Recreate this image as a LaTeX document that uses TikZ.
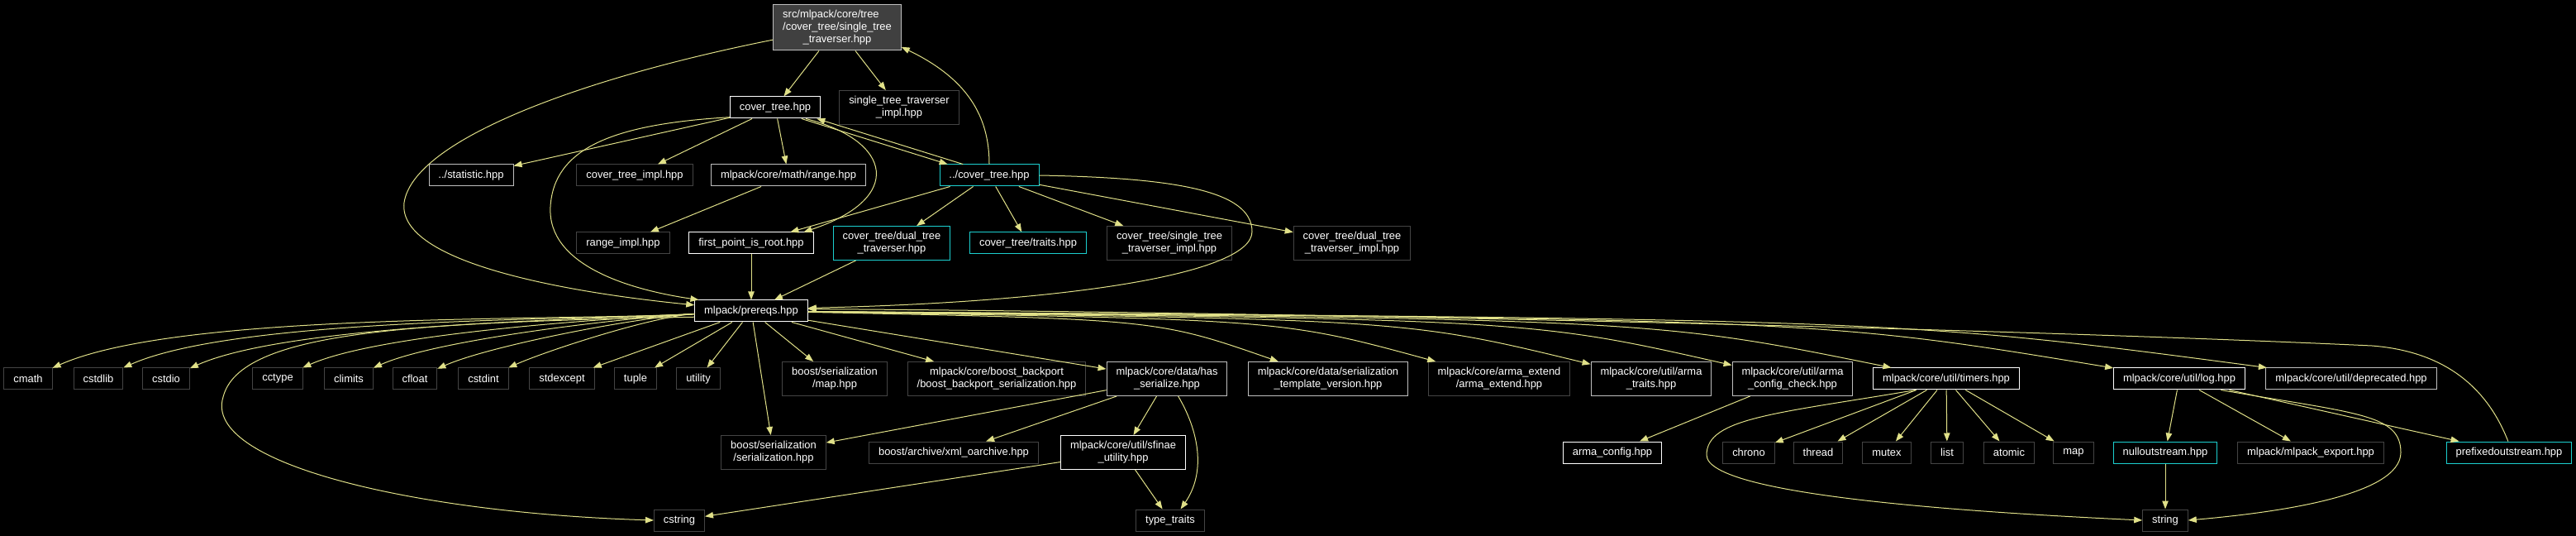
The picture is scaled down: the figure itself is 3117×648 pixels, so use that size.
\documentclass[tikz,border=0pt]{standalone}
\usepackage{fontspec}
\usepackage{xcolor}
\usepackage{tikz}
\usetikzlibrary{arrows.meta}
\newfontfamily\hfont{Liberation Sans}
\definecolor{edgeyel}{HTML}{E0E088}
\definecolor{docgrey}{HTML}{BFBFBF}
\definecolor{undocgrey}{HTML}{444444}
\definecolor{cyclecyan}{HTML}{1CCFCF}
\definecolor{selffill}{HTML}{404040}
\tikzset{
  hdr/.style    ={rectangle,draw,line width=0.75pt,fill=black,text=white,align=center,
                  font=\hfont\fontsize{9.7}{11.25}\selectfont,inner xsep=8.6pt,inner ysep=5.2pt,minimum height=19.5pt},
  docw/.style   ={draw=white},
  docg/.style   ={draw=docgrey},
  undoc/.style  ={draw=undocgrey},
  cyc/.style    ={draw=cyclecyan},
  self/.style   ={fill=selffill,draw=docgrey},
  dep/.style    ={draw=edgeyel,line width=0.75pt,-{Triangle[length=7.5pt,width=5.6pt]}},
}

\begin{document}
\begin{tikzpicture}[x=0.75pt,y=-0.75pt]
  \useasboundingbox (0,0) rectangle (3117,648);
  \fill[black] (0,0) rectangle (3117,648);
  % the file and the cover tree headers
  \node[hdr,self](stt) at (1013,33){\rlap{src/mlpack/core/tree}\phantom{/cover\_tree/single\_tree}\\/cover\_tree/single\_tree\\\_traverser.hpp};
  \node[hdr,docw](ctree) at (938,130){cover\_tree.hpp};          \node[hdr,undoc](stimpl) at (1088,130){single\_tree\_traverser\\\_impl.hpp};
  \node[hdr,docg](stat) at (570,212){../statistic.hpp};          \node[hdr,undoc](ctimpl) at (768,212){cover\_tree\_impl.hpp};
  \node[hdr,docg](range) at (954,212){mlpack/core/math/range.hpp}; \node[hdr,cyc](pctree) at (1197,212){../cover\_tree.hpp};
  \node[hdr,undoc](rimpl) at (754,294){range\_impl.hpp};         \node[hdr,docw](fpr) at (909,294){first\_point\_is\_root.hpp};
  \node[hdr,cyc](dtt) at (1079,294){cover\_tree/dual\_tree\\\_traverser.hpp};
  \node[hdr,cyc](traits) at (1244,294){cover\_tree/traits.hpp};
  \node[hdr,undoc](ctsti) at (1415,294){cover\_tree/single\_tree\\\_traverser\_impl.hpp};
  \node[hdr,undoc](ctdti) at (1636,294){cover\_tree/dual\_tree\\\_traverser\_impl.hpp};
  \node[hdr,docw](prereqs) at (909,376){mlpack/prereqs.hpp};
  % row under prereqs
  \node[hdr,undoc](cmath) at (34,458){cmath};       \node[hdr,undoc](cstdlib) at (119,458){cstdlib};
  \node[hdr,undoc](cstdio) at (201,458){cstdio};    \node[hdr,undoc](cctype) at (336,458){cctype};
  \node[hdr,undoc](climits) at (422,458){climits};  \node[hdr,undoc](cfloat) at (502,458){cfloat};
  \node[hdr,undoc](cstdint) at (585,458){cstdint};  \node[hdr,undoc](stdexcept) at (680,458){stdexcept};
  \node[hdr,undoc](tuple) at (769,458){tuple};      \node[hdr,undoc](utility) at (845,458){utility};
  \node[hdr,undoc](bmap) at (1010,458){boost/serialization\\/map.hpp};
  \node[hdr,undoc](backport) at (1206,458){mlpack/core/boost\_backport\\/boost\_backport\_serialization.hpp};
  \node[hdr,docg](hasser) at (1412,458){mlpack/core/data/has\\\_serialize.hpp};
  \node[hdr,docg](tplver) at (1607,458){mlpack/core/data/serialization\\\_template\_version.hpp};
  \node[hdr,undoc](aext) at (1814,458){mlpack/core/arma\_extend\\/arma\_extend.hpp};
  \node[hdr,docg](atraits) at (1998,458){mlpack/core/util/arma\\\_traits.hpp};
  \node[hdr,docg](acheck) at (2169,458){mlpack/core/util/arma\\\_config\_check.hpp};
  \node[hdr,docw](timers) at (2355,458){mlpack/core/util/timers.hpp};
  \node[hdr,docw](log) at (2637,458){mlpack/core/util/log.hpp};
  \node[hdr,docg](depr) at (2845,458){mlpack/core/util/deprecated.hpp};
  % lower rows
  \node[hdr,undoc](bser) at (936,547){boost/serialization\\/serialization.hpp};
  \node[hdr,undoc](xmlo) at (1154,547){boost/archive/xml\_oarchive.hpp};
  \node[hdr,docw](sfinae) at (1359,547){mlpack/core/util/sfinae\\\_utility.hpp};
  \node[hdr,docw](acfg) at (1951,547){arma\_config.hpp};
  \node[hdr,undoc](chrono) at (2116,547){chrono};   \node[hdr,undoc](thread) at (2200,547){thread};
  \node[hdr,undoc](mutex) at (2283,547){mutex};     \node[hdr,undoc](list) at (2356,547){list};
  \node[hdr,undoc](atomic) at (2431,547){atomic};   \node[hdr,undoc](smap) at (2509,547){map};
  \node[hdr,cyc](nullos) at (2620,547){nulloutstream.hpp};
  \node[hdr,undoc](mexport) at (2796,547){mlpack/mlpack\_export.hpp};
  \node[hdr,cyc](prefos) at (3036,547){prefixedoutstream.hpp};
  \node[hdr,undoc](cstring) at (822,629){cstring};  \node[hdr,undoc](ttraits) at (1416,629){type\_traits};
  \node[hdr,undoc](string) at (2620,629){string};

  \draw[dep](stt)--(ctree); \draw[dep](stt)--(stimpl);
  \draw[dep](stt.191) .. controls (700,95) and (500,170) .. (489,245) .. controls (480,320) and (700,355) .. (prereqs.174);
  \foreach \n in {stat,ctimpl,range}{\draw[dep](ctree)--(\n);}
  \draw[dep](ctree.-23)--(pctree.165); \draw[dep](pctree.157)--(ctree.-15);
  \draw[dep](ctree.192) .. controls (740,150) and (670,180) .. (666,250) .. controls (662,320) and (760,350) .. (prereqs.168);
  \draw[dep](ctree.-20) .. controls (1080,170) and (1095,240) .. (fpr.12);
  \draw[dep](pctree.north) .. controls (1197,140) and (1170,95) .. (stt.-17);
  \foreach \n in {fpr,dtt,traits,ctsti,ctdti}{\draw[dep](pctree)--(\n);}
  \draw[dep](pctree.east) .. controls (1420,215) and (1515,230) .. (1515,280) .. controls (1515,330) and (1300,365) .. (prereqs.3);
  \draw[dep](range)--(rimpl); \draw[dep](fpr)--(prereqs); \draw[dep](dtt)--(prereqs);
  \foreach \n in {cmath,cstdlib,cstdio,cctype,climits,cfloat,cstdint}{\draw[dep](prereqs) to[out=183,in=24,looseness=0.55](\n);}
  \foreach \n in {stdexcept,tuple,utility,bmap,bser,backport,hasser}{\draw[dep](prereqs)--(\n);}
  \foreach \n/\cx in {tplver/1400,aext/1550,atraits/1700,acheck/1850,timers/2000,log/2200,depr/2300}{\draw[dep](prereqs) .. controls (\cx,386) .. (\n);}
  \draw[dep](prereqs.186) .. controls (500,390) and (290,400) .. (270,480) .. controls (245,560) and (500,620) .. (cstring.west);
  \draw[dep](prefos.95) .. controls (3010,470) and (2960,425) .. (2870,418) .. controls (2300,392) and (1400,376) .. (prereqs.2);
  \foreach \n in {bser,xmlo,sfinae}{\draw[dep](hasser)--(\n);}
  \draw[dep](hasser.-57) .. controls (1450,520) and (1460,570) .. (ttraits.47);
  \draw[dep](sfinae)--(cstring); \draw[dep](sfinae)--(ttraits);
  \draw[dep](acheck)--(acfg);
  \foreach \n in {chrono,thread,mutex,list,atomic,smap}{\draw[dep](timers)--(\n);}
  \draw[dep](timers.200) .. controls (2150,500) and (2065,505) .. (2065,550) .. controls (2065,600) and (2400,620) .. (string.west);
  \foreach \n in {nullos,mexport,prefos}{\draw[dep](log)--(\n);}
  \draw[dep](log.-15) .. controls (2850,500) and (2905,500) .. (2905,547) .. controls (2905,600) and (2750,620) .. (string.east);
  \draw[dep](nullos)--(string);
\end{tikzpicture}
\end{document}
